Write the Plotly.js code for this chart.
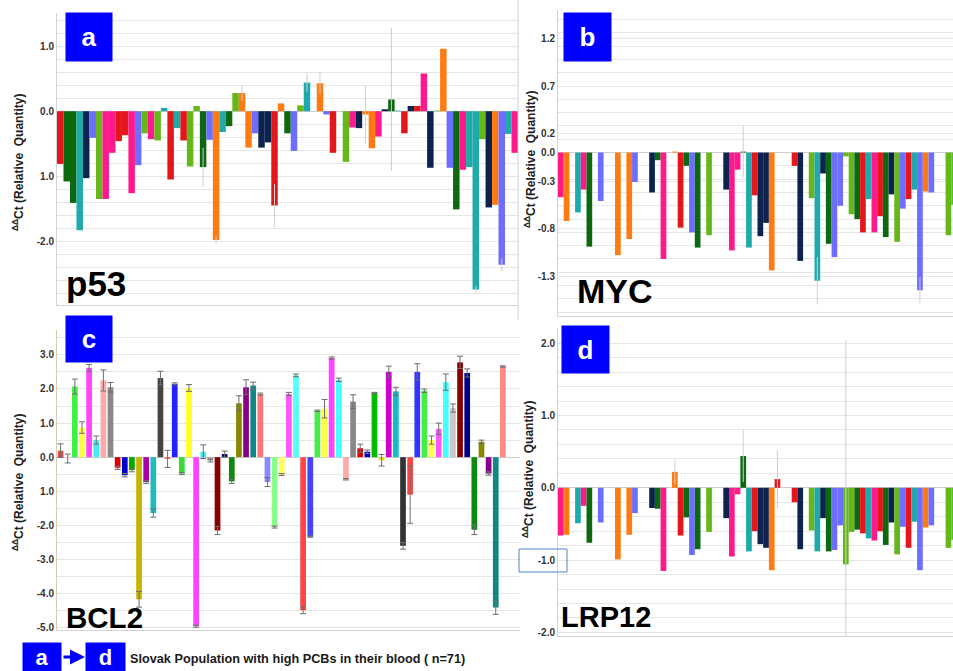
<!DOCTYPE html>
<html>
<head>
<meta charset="utf-8">
<script src="https://cdn.plot.ly/plotly-3.0.1.min.js"></script>
<style>
  html, body { margin: 0; padding: 0; background: #ffffff; }
  #chart { width: 953px; height: 671px; }
</style>
</head>
<body>
<div id="chart"></div>
<script>
// ---- p53 (panel a): one bar per sample, ΔΔCt ----
const p53Values = [
  -0.81, -1.08, -1.41, -1.83, -1.03, -0.41, -1.35, -1.35, -0.64, -0.46,
  -0.37, -1.26, -0.83, -0.34, -0.43, -0.45, 0.05, -1.05, -0.26, -0.45,
  -0.85, 0.08, -0.86, -0.44, -1.98, -0.32, -0.23, 0.28, 0.28, -0.56,
  -0.34, -0.56, -0.48, -1.45, 0.12, -0.34, -0.61, 0.09, 0.44, null,
  0.43, -0.05, -0.64, null, -0.78, -0.25, -0.26, -0.05, -0.57, -0.39,
  0.03, 0.18, 0.01, -0.34, 0.08, 0.08, 0.58, -0.87, 0.01, 0.96,
  -0.87, -1.51, -0.90, -0.86, -2.74, -0.43, -1.48, -1.44, -2.36, -0.35, -0.64
];
const p53Errors = [
  0, 0, 0, 0, 0, 0, 0, 0, 0, 0,
  0, 0, 0, 0, 0, 0, 0, 0, 0, 0,
  0, 0, 0.30, 0, 0.05, 0, 0, 0, 0.12, 0,
  0, 0, 0, 0.33, 0, 0, 0, 0, 0.14, 0,
  0.17, 0, 0, 0, 0, 0, 0, 0.45, 0, 0,
  0, 1.10, 0, 0, 0, 0, 0, 0, 0, 0,
  0, 0, 0, 0, 0.05, 0, 0, 0, 0.10, 0, 0
];
const p53Colors = "RGGTNPYKKRRKPYKYTRTRYYGPOTGYOOPNNROGPYT-OPR-YKNOOKNGTRNRKNYOPGKTTYNOPTK";

// ---- MYC (panel b) and LRP12 (panel d): same sample order ----
const mycValues = [
  -0.47, -0.72, null, -0.63, -0.39, -0.99, null, -0.51, null, null,
  -1.08, null, -0.91, -0.31, null, null, -0.42, -0.08, -1.12, null,
  0.01, -0.79, -0.14, -0.84, -1.00, null, -0.87, null, null, -0.39,
  -1.03, -0.18, 0.01, -1.00, -0.45, -0.88, -0.74, -1.24, null, null,
  null, -0.14, -1.14, null, -0.48, -1.35, -0.22, -0.96, -1.10, -0.56,
  -0.04, -0.65, -0.70, -0.84, -0.49, -0.84, -0.67, -0.89, -0.44, -0.94,
  -0.59, -0.49, -0.39, -1.45, -0.41, -0.42, null, null, -0.87, -0.55
];
const mycErrors = [
  0, 0, 0, 0, 0, 0, 0, 0, 0, 0,
  0, 0, 0, 0, 0, 0, 0, 0, 0, 0,
  0, 0, 0, 0, 0, 0, 0, 0, 0, 0,
  0, 0, 0.27, 0, 0, 0, 0, 0, 0, 0,
  0, 0, 0, 0, 0, 0.25, 0, 0, 0, 0,
  0, 0, 0, 0, 0, 0, 0, 0, 0, 0,
  0, 0, 0, 0.14, 0, 0, 0, 0, 0, 0
];
const lrp12Values = [
  -0.66, -0.65, null, -0.49, -0.25, -0.76, null, -0.48, null, null,
  -0.99, null, -0.65, -0.35, null, null, -0.28, -0.29, -1.15, null,
  0.22, -0.66, -0.41, -0.93, -0.85, null, -0.61, null, null, -0.42,
  -0.95, -0.09, 0.44, -0.88, -0.60, -0.78, -0.83, -1.14, 0.12, null,
  null, -0.20, -0.85, null, -0.59, -0.88, -0.42, -0.88, -0.86, -0.52,
  -1.06, -0.61, -0.58, -0.63, -0.70, -0.73, -0.60, -0.79, -0.48, -0.92,
  -0.54, -0.83, -0.47, -1.14, -0.55, -0.52, null, null, -0.83, -0.72
];
const lrp12Errors = [
  0, 0, 0, 0, 0, 0, 0, 0, 0, 0,
  0, 0, 0, 0, 0, 0, 0, 0, 0, 0,
  0.17, 0, 0, 0, 0, 0, 0, 0, 0, 0,
  0, 0, 0.36, 0, 0, 0, 0, 0, 0.40, 0,
  0, 0, 0, 0, 0, 0, 0, 0, 0, 0,
  3.10, 0, 0, 0, 0, 0, 0, 0, 0, 0,
  0, 0, 0, 0, 0, 0, 0, 0, 0, 0
];
const sampleColorsBD = "KO-TKG-P--O-OP--NGK-ORGPG-Y--NKKGTRNNOR--RN-YTNGPPYYGRTKRGNYPRTPOP--YY";

// ---- BCL2 (panel c): mean ΔΔCt with error ----
const bcl2Values = [
  0.19, -0.04, 2.07, 0.87, 2.62, 0.50, 2.25, 2.05, -0.31, -0.53,
  -0.38, -4.17, -0.73, -1.64, 2.32, -0.05, 2.15, -0.48, 2.03, -4.96,
  0.16, -0.10, -2.15, 0.09, -0.71, 1.58, 2.05, 2.10, 1.85, -0.73,
  -2.05, -0.51, 1.85, 2.40, -4.49, -2.33, 1.36, 1.42, 2.91, 2.27,
  -0.65, 1.63, 0.26, 0.16, 1.88, -0.09, 2.50, 1.93, -2.60, -1.10,
  2.50, 1.95, 0.50, 0.83, 2.20, 1.44, 2.78, 2.47, -2.13, 0.45,
  -0.48, -4.41, 2.66
];
const bcl2Errors = [
  0.20, 0.13, 0.22, 0.17, 0.10, 0.12, 0.31, 0.14, 0.05, 0.05,
  0.05, 0.23, 0.04, 0.12, 0.20, 0.25, 0.03, 0.03, 0.10, 0.03,
  0.20, 0.04, 0.12, 0.09, 0.06, 0.22, 0.22, 0.10, 0.03, 0.13,
  0.03, 0.03, 0.05, 0.04, 0.10, 0.02, 0.02, 0.27, 0.03, 0.05,
  0.02, 0.20, 0.12, 0.05, 0.02, 0.17, 0.17, 0.12, 0.10, 0.84,
  0.24, 0.05, 0.12, 0.17, 0.24, 0.12, 0.18, 0.12, 0.14, 0.05,
  0.05, 0.20, 0.02
];
const bcl2Colors = [
  "#ee4444", "#e2e2e2", "#44ee44", "#ffff44", "#ff44ff", "#44eeee", "#ffaaaa", "#888888", "#dd0000", "#0000cc",
  "#00aa00", "#c8b400", "#aa00aa", "#22bbbb", "#444444", "#ff5555", "#2222ff", "#33dd33", "#ffff22", "#ff44ff",
  "#44eeee", "#aaaaaa", "#880000", "#000088", "#118811", "#888800", "#880088", "#118888", "#ff7777", "#8888ff",
  "#88ff88", "#ffff55", "#ff55ff", "#55ffff", "#ff4444", "#4444ff", "#44ee44", "#ffff44", "#ff44ff", "#44ffff",
  "#ffaaaa", "#888888", "#dd0000", "#0000cc", "#00bb00", "#dddd00", "#cc00cc", "#11bbcc", "#333333", "#ff4444",
  "#3333ff", "#44ee44", "#ffff44", "#ff55ff", "#44ffff", "#c8c8c8", "#880000", "#000088", "#118811", "#888800",
  "#880088", "#118888", "#ff8888"
];

// tick labels as printed on each axis
const p53TickVals = [1, 0, -1, -2];
const p53TickText = ["1.0", "0.0", "1.0", "-2.0"];
const mycTickVals = [1.2, 0.7, 0.2, 0, -0.3, -0.8, -1.3];
const mycTickText = ["1.2", "0.7", "0.2", "0.0", "-0.3", "-0.8", "-1.3"];
const bcl2TickVals = [3, 2, 1, 0, -1, -2, -3, -4, -5];
const bcl2TickText = ["3.0", "2.0", "1.0", "0.0", "1.0", "-2.0", "-3.0", "-4.0", "-5.0"];
const lrp12TickVals = [2, 1, 0, -1, -2];
const lrp12TickText = ["2.0", "1.0", "0.0", "-1.0", "-2.0"];

// colour codes used by the p53 / MYC / LRP12 panels
const palette = {
  R: "#e3161b", G: "#0d690f", T: "#1eaaaa", N: "#0c2350",
  P: "#6d6dff", K: "#ff1a8c", O: "#ff7b12", Y: "#66b81a"
};
const codeColors = s => s.split("").map(c => palette[c] || "#ffffff");
const idx = n => Array.from({ length: n }, (_, i) => i);

const W = 953, H = 671;
const px = x => x / W;
const py = y => 1 - y / H;

const faintErr = arr => ({ type: "data", array: arr, visible: true, color: "#cfcfcf", thickness: 1, width: 0 });

const traces = [
  { type: "bar", x: idx(p53Values.length), y: p53Values, width: 1,
    marker: { color: codeColors(p53Colors), line: { width: 0 } },
    error_y: faintErr(p53Errors), xaxis: "x", yaxis: "y", hoverinfo: "y" },
  { type: "bar", x: idx(mycValues.length), y: mycValues, width: 1,
    marker: { color: codeColors(sampleColorsBD), line: { width: 0 } },
    error_y: faintErr(mycErrors), xaxis: "x2", yaxis: "y2", hoverinfo: "y" },
  { type: "bar", x: idx(bcl2Values.length), y: bcl2Values, width: 0.8,
    marker: { color: bcl2Colors, line: { width: 0 } },
    error_y: { type: "data", array: bcl2Errors, visible: true, color: "#6e6e6e", thickness: 1, width: 3 },
    xaxis: "x3", yaxis: "y3", hoverinfo: "y" },
  { type: "bar", x: idx(lrp12Values.length), y: lrp12Values, width: 1,
    marker: { color: codeColors(sampleColorsBD), line: { width: 0 } },
    error_y: faintErr(lrp12Errors), xaxis: "x4", yaxis: "y4", hoverinfo: "y" }
];

const tickFont = { family: "Arial, 'Liberation Sans', sans-serif", size: 10, weight: "bold", color: "#333333" };
const gridColor = "#e6e6e6";

function xAxis(domain, range, anchor) {
  return { domain, range, anchor, showticklabels: false, showgrid: false, zeroline: false,
           showline: true, linecolor: "#d4d4d4", linewidth: 1, ticks: "", fixedrange: true };
}
function yAxis(domain, range, anchor, vals, text, minorStep, lineColor) {
  return { domain, range, anchor, tickmode: "array", tickvals: vals, ticktext: text, tickfont: tickFont,
           ticks: "", showgrid: true, gridcolor: gridColor, gridwidth: 1,
           minor: { tick0: 0, dtick: minorStep, showgrid: true, gridcolor: gridColor, gridwidth: 1, ticks: "" },
           zeroline: true, zerolinecolor: "#cfcfcf", zerolinewidth: 1,
           showline: true, linecolor: lineColor, linewidth: 1, fixedrange: true };
}

const boxFont = { family: "Arial, 'Liberation Sans', sans-serif", size: 26, weight: "bold", color: "#ffffff" };
function letterBox(letter, cx, cy, w, h, size) {
  return { text: letter, xref: "paper", yref: "paper", x: px(cx), y: py(cy),
           xanchor: "center", yanchor: "middle", showarrow: false,
           width: w, height: h, bgcolor: "#0000ff", borderpad: 0,
           font: Object.assign({}, boxFont, size ? { size } : {}) };
}
const geneFont = { family: "Arial, 'Liberation Sans', sans-serif", size: 32, weight: "bold", color: "#000000" };
function geneLabel(text, left, cy, size) {
  return { text, xref: "paper", yref: "paper", x: px(left), y: py(cy),
           xanchor: "left", yanchor: "middle", showarrow: false,
           font: Object.assign({}, geneFont, { size }) };
}
const titleFont = { family: "Arial, 'Liberation Sans', sans-serif", size: 12, weight: "bold", color: "#222222" };
const yTitleText = "<sup>ΔΔ</sup>Ct (Relative  Quantity)";
function yTitle(cx, cy) {
  return { text: yTitleText, xref: "paper", yref: "paper", x: px(cx), y: py(cy),
           xanchor: "center", yanchor: "middle", textangle: -90, showarrow: false, font: titleFont };
}

const layout = {
  width: W, height: H,
  margin: { l: 0, r: 0, t: 0, b: 0 },
  paper_bgcolor: "#ffffff", plot_bgcolor: "#ffffff",
  showlegend: false,
  xaxis:  xAxis([px(57), px(518)], [-0.5, 70.5], "y"),
  yaxis:  yAxis([py(305), py(13)], [-2.98, 1.51], "x", p53TickVals, p53TickText, 0.2, "#d4d4d4"),
  xaxis2: xAxis([px(558), 1], [-0.5, 68.8], "y2"),
  yaxis2: yAxis([py(316), py(10)], [-1.72, 1.50], "x2", mycTickVals, mycTickText, 0.14, "#d4d4d4"),
  xaxis3: xAxis([px(57), px(520)], [-0.5, 64.4], "y3"),
  yaxis3: yAxis([py(630), py(330)], [-5.07, 3.73], "x3", bcl2TickVals, bcl2TickText, 0.5, "#d8cdb0"),
  xaxis4: xAxis([px(558), 1], [-0.5, 68.8], "y4"),
  yaxis4: yAxis([py(636), py(328)], [-2.05, 2.21], "x4", lrp12TickVals, lrp12TickText, 0.2, "#d4d4d4"),
  shapes: [
    // right border of the p53 panel
    { type: "line", xref: "paper", yref: "paper", x0: px(518), x1: px(518), y0: py(320), y1: 1,
      line: { color: "#d0d0d0", width: 1 } },
    // outlined tick label on the LRP12 axis
    { type: "rect", xref: "paper", yref: "paper", x0: px(519), x1: px(567), y0: py(572), y1: py(549),
      line: { color: "#4f86cf", width: 1 }, fillcolor: "rgba(0,0,0,0)" }
  ],
  annotations: [
    letterBox("a", 89, 37, 46, 48),
    letterBox("b", 587.5, 37, 47, 48),
    letterBox("c", 89, 339, 46, 46),
    letterBox("d", 585.5, 349.5, 47, 47),
    geneLabel("p53", 64, 283, 35),
    geneLabel("MYC", 575, 291, 34),
    geneLabel("BCL2", 64, 617, 29.5),
    geneLabel("LRP12", 559, 617, 29),
    yTitle(18, 163),
    yTitle(530, 160),
    yTitle(18, 483),
    yTitle(528, 470),
    // caption: a → d
    letterBox("a", 42, 657, 38, 28, 22),
    letterBox("d", 105.5, 657, 39, 28, 22),
    { text: "", xref: "paper", yref: "paper", x: px(85), y: py(657), ax: -23, ay: 0,
      showarrow: true, arrowhead: 2, arrowsize: 1, arrowwidth: 3, arrowcolor: "#0000ff" },
    { text: "Slovak Population with high PCBs in their blood ( n=71)", xref: "paper", yref: "paper",
      x: px(128), y: py(659), xanchor: "left", yanchor: "middle", showarrow: false,
      font: { family: "Arial, 'Liberation Sans', sans-serif", size: 12.7, weight: "bold", color: "#1a1a1a" } }
  ]
};

Plotly.newPlot("chart", traces, layout, { displayModeBar: false, staticPlot: true });
</script>
</body>
</html>
